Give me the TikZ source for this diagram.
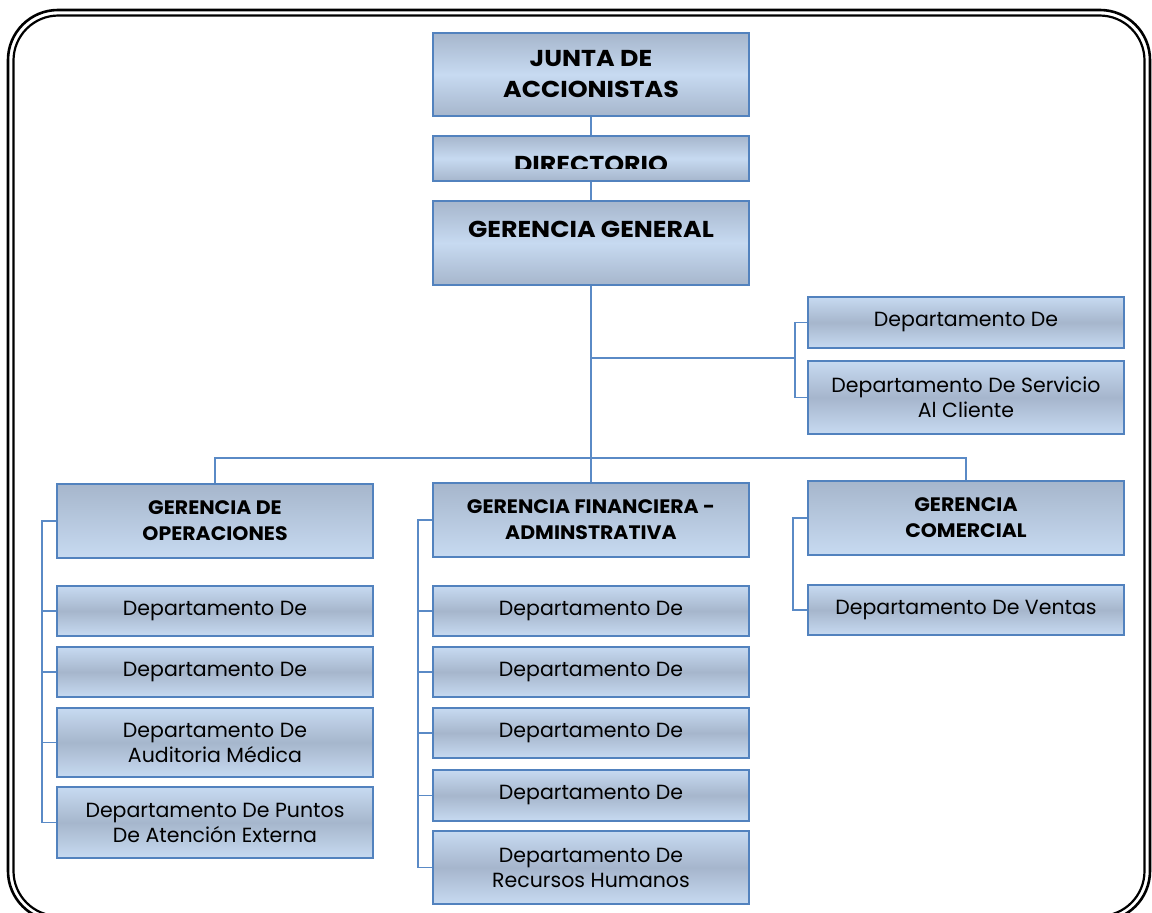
\documentclass[tikz,border=0pt]{standalone}
\usepackage{fontspec}
\setmainfont{Poppins}
\newfontfamily\widebold[FakeStretch=1.1]{Poppins Bold}
\newfontfamily\midbold[FakeStretch=1.05]{Poppins Bold}
\definecolor{boxblue}{HTML}{5282BE}
\definecolor{lineblue}{HTML}{5A8AC6}
\definecolor{dk}{HTML}{A6B6CC}
\definecolor{lt}{HTML}{C7DAF1}
\tikzset{
  box/.style={draw=boxblue, line width=2.5pt, minimum width=316pt, inner sep=0pt,
              align=center, text=black},
  hdr/.style={box, top color=dk, bottom color=dk, middle color=lt},
  hdrfont/.style={font=\fontsize{23}{31}\selectfont\widebold},
  mgr/.style={box, top color=dk, bottom color=lt,
              font=\fontsize{19.5}{26}\selectfont\midbold},
  dept/.style={box, top color=lt, bottom color=lt, middle color=dk,
               font=\fontsize{20.5}{25}\selectfont},
  link/.style={draw=lineblue, line width=1.6pt},
  frame/.style={draw=black, rounded corners=#1}
}
\begin{document}
\begin{tikzpicture}[x=1pt, y=-1pt]
  \useasboundingbox (0,0) rectangle (1152,913);
  \clip (0,0) rectangle (1152,913);

  % double page frame
  \draw[frame=50pt, line width=2.6pt] (8,10) rectangle (1150,921);
  \draw[frame=45pt, line width=2.2pt] (13.5,15.5) rectangle (1144.5,916);

  % top of the hierarchy
  \node[hdr, hdrfont, minimum height=83pt] (junta) at (591,74.5) {JUNTA DE\\ACCIONISTAS};
  \node[hdr, minimum height=45pt] (dir) at (591,158.5) {};
  \begin{scope}
    \clip (433,136) rectangle (749,168);
    \node[hdrfont, anchor=base, inner sep=0pt] (dirtext) at (591,172.5) {DIRECTORIO};
  \end{scope}
  \node[hdr, minimum height=84pt] (gg) at (591,243) {};
  \node[hdrfont, inner sep=0pt] (ggtext) at (591,229) {GERENCIA GENERAL};

  % staff departments under the general management
  \node[dept, minimum height=51pt] (rd1) at (966,322.5) {Departamento De};
  \node[dept, minimum height=73pt] (rd2) at (966,397.5) {Departamento De Servicio\\Al Cliente};

  % managements
  \node[mgr, minimum height=74pt] (go) at (215,521) {GERENCIA DE\\OPERACIONES};
  \node[mgr, minimum height=74pt] (gf) at (591,520) {GERENCIA FINANCIERA -\\ADMINSTRATIVA};
  \node[mgr, minimum height=74pt] (gc) at (966,518) {GERENCIA\\COMERCIAL};

  % operations departments
  \node[dept, minimum height=50pt] (od1) at (215,611) {Departamento De};
  \node[dept, minimum height=50pt] (od2) at (215,672) {Departamento De};
  \node[dept, minimum height=69pt] (od3) at (215,742.5) {Departamento De\\Auditoria Médica};
  \node[dept, minimum height=71pt] (od4) at (215,822.5) {Departamento De Puntos\\De Atención Externa};

  % finance and administration departments
  \node[dept, minimum height=50pt] (fd1) at (591,611) {Departamento De};
  \node[dept, minimum height=50pt] (fd2) at (591,672) {Departamento De};
  \node[dept, minimum height=50pt] (fd3) at (591,733) {Departamento De};
  \node[dept, minimum height=51pt] (fd4) at (591,795.5) {Departamento De};
  \node[dept, minimum height=73pt] (fd5) at (591,867.5) {Departamento De\\Recursos Humanos};

  % commercial department
  \node[dept, minimum height=50pt] (cd1) at (966,610) {Departamento De Ventas};

  % junction points
  \coordinate (bus) at (591,458);
  \coordinate (rb) at (591,358);
  \coordinate (rs) at (795,358);
  \coordinate (ox) at (42,0);
  \coordinate (fx) at (418,0);
  \coordinate (cx) at (793,0);

  % main chain
  \draw[link] (junta.south) -- (dir.north);
  \draw[link] (dir.south) -- (gg.north);
  \draw[link] (gg.south) -- (gf.north);
  \draw[link] (go.north) |- (bus) -| (gc.north);

  % staff branch
  \draw[link] (rb) -- (rs);
  \draw[link] (rd1.west) -| (rs) |- (rd2.west);

  % operations spine
  \draw[link] (go.west) -- (go.west -| ox) -- (od4.west -| ox) -- (od4.west);
  \foreach \n in {od1,od2,od3} \draw[link] (\n.west -| ox) -- (\n.west);

  % finance spine
  \draw[link] (gf.west) -- (gf.west -| fx) -- (fd5.west -| fx) -- (fd5.west);
  \foreach \n in {fd1,fd2,fd3,fd4} \draw[link] (\n.west -| fx) -- (\n.west);

  % commercial spine
  \draw[link] (gc.west) -- (gc.west -| cx) -- (cd1.west -| cx) -- (cd1.west);
\end{tikzpicture}
\end{document}
